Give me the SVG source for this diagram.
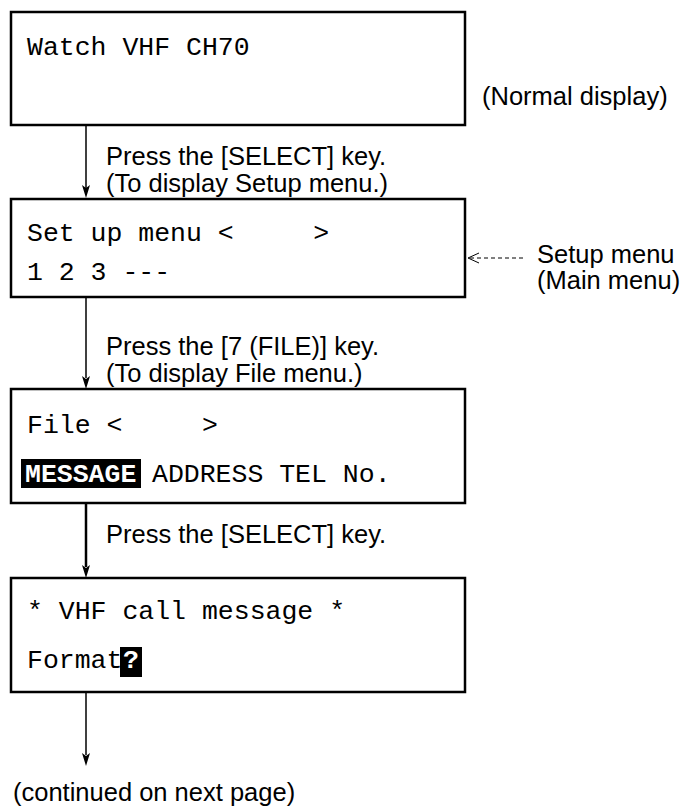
<svg xmlns="http://www.w3.org/2000/svg" width="686" height="807" viewBox="0 0 686 807">
<style>
.box{fill:#fff;stroke:#000;stroke-width:2.5}
.mono{font-family:"Liberation Mono","Courier New",monospace;font-size:26.5px;fill:#000;white-space:pre}
.monob{font-family:"Liberation Mono","Courier New",monospace;font-size:26.5px;font-weight:bold;fill:#fff;white-space:pre}
.sans{font-family:"Liberation Sans",Arial,sans-serif;font-size:25.5px;fill:#000}
.ln{stroke:#000;stroke-width:1.5;fill:none}
.head{fill:#000}
</style>
<rect width="686" height="807" fill="#fff"/>
<g id="connectors">
<line class="ln" x1="86" y1="126" x2="86" y2="188"/>
<polygon class="head" points="82,185 86,188 90,185 86,198"/>
<line class="ln" x1="86" y1="298" x2="86" y2="378"/>
<polygon class="head" points="82,376 86,379 90,376 86,389"/>
<line class="ln" x1="86" y1="504" x2="86" y2="567" style="stroke-width:2.5"/>
<polygon class="head" points="82,565 86,568 90,565 86,578"/>
<line class="ln" x1="86" y1="693" x2="86" y2="755"/>
<polygon class="head" points="82,753 86,756 90,753 86,766"/>
<line x1="470" y1="258" x2="524" y2="258" stroke="#000" stroke-width="1" stroke-dasharray="4,3"/>
<path d="M479,253 L468,258 L479,263" fill="none" stroke="#000" stroke-width="1"/>
</g>
<g id="normal-display">
<rect class="box" x="11" y="12" width="454" height="113"/>
<text class="mono" x="27" y="55">Watch VHF CH70</text>
</g>
<text class="sans" x="482" y="105">(Normal display)</text>
<text class="sans" x="106" y="165">Press the [SELECT] key.</text>
<text class="sans" x="106" y="192">(To display Setup menu.)</text>
<g id="setup-menu">
<rect class="box" x="11" y="199" width="454" height="98"/>
<text class="mono" x="27" y="241">Set up menu &lt;     &gt;</text>
<text class="mono" x="27" y="280">1 2 3 ---</text>
</g>
<text class="sans" x="537" y="263">Setup menu</text>
<text class="sans" x="537" y="289">(Main menu)</text>
<text class="sans" x="106" y="355">Press the [7 (FILE)] key.</text>
<text class="sans" x="106" y="382">(To display File menu.)</text>
<g id="file-menu">
<rect class="box" x="11" y="389" width="454" height="114"/>
<text class="mono" x="27" y="433">File &lt;     &gt;</text>
<rect x="21" y="459" width="120" height="29" fill="#000"/>
<text class="monob" x="25" y="482">MESSAGE</text>
<text class="mono" x="152" y="482">ADDRESS TEL No.</text>
</g>
<text class="sans" x="106" y="543">Press the [SELECT] key.</text>
<g id="vhf-call-message">
<rect class="box" x="11" y="578" width="454" height="114"/>
<text class="mono" x="27" y="619">* VHF call message *</text>
<text class="mono" x="27" y="668">Format</text>
<rect x="120" y="647" width="22" height="30" fill="#000"/>
<text class="monob" x="123" y="668">?</text>
</g>
<text class="sans" x="13" y="801">(continued on next page)</text>
</svg>
